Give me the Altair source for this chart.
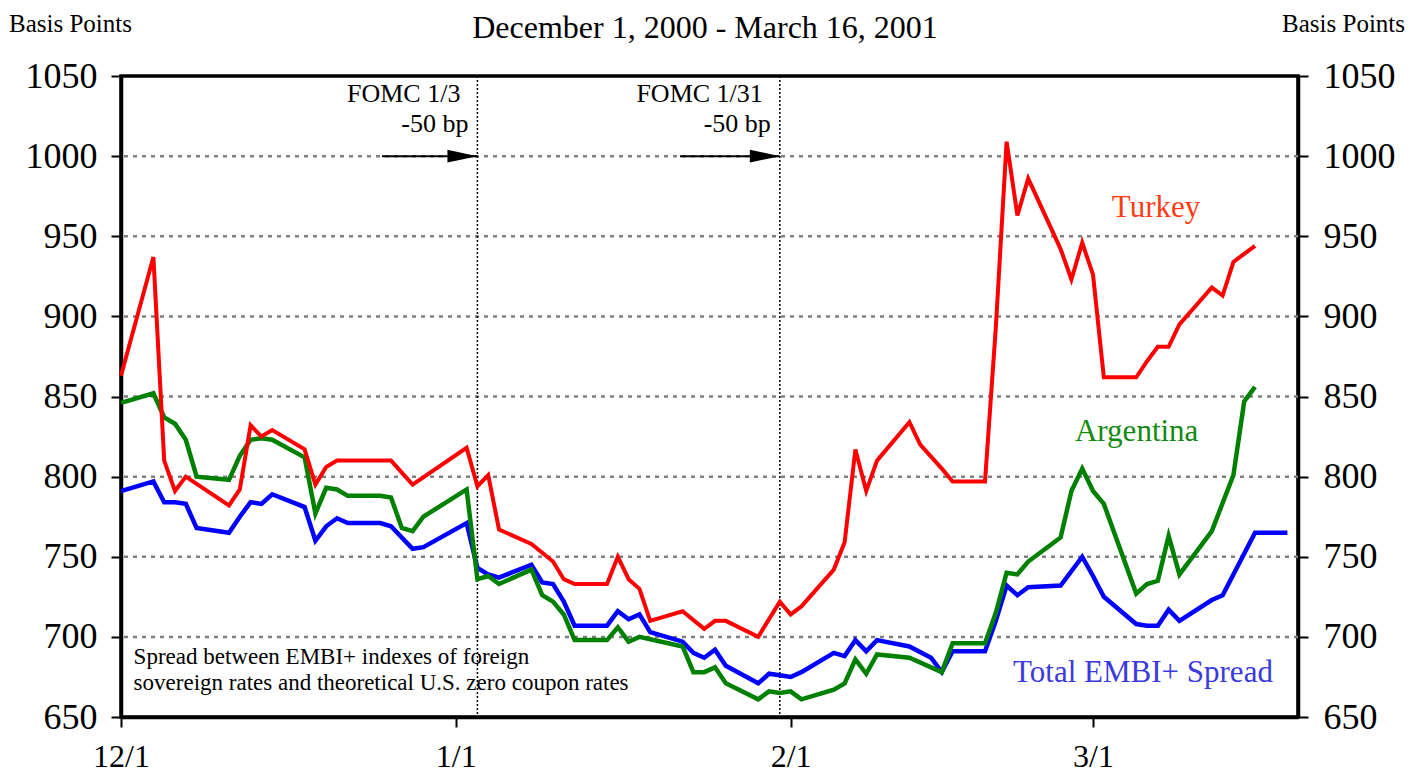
import altair as alt
import pandas as pd

FONT = "Liberation Serif"

# ---------------- data ----------------
turkey_dates = ["12-01", "12-04", "12-05", "12-06", "12-07", "12-11", "12-12", "12-13", "12-14", "12-15",
                "12-18", "12-19", "12-20", "12-21", "12-26", "12-28", "01-02", "01-03", "01-04", "01-05",
                "01-08", "01-10", "01-11", "01-12", "01-15", "01-16", "01-17", "01-18", "01-19", "01-22",
                "01-24", "01-25", "01-26", "01-29", "01-31", "02-01", "02-02", "02-05", "02-06", "02-07",
                "02-08", "02-09", "02-12", "02-13", "02-15", "02-16", "02-19", "02-20", "02-21", "02-22",
                "02-23", "02-26", "02-27", "02-28", "03-01", "03-02", "03-05", "03-06", "03-07", "03-08",
                "03-09", "03-12", "03-13", "03-14", "03-15", "03-16"]
turkey_values = [863, 937, 810, 791, 800, 782, 792, 832, 825, 829,
                 817, 795, 806, 810, 810, 795, 818, 794, 801, 767,
                 758, 747, 736, 733, 733, 750, 736, 730, 710, 716,
                 705, 710, 710, 700, 722, 714, 719, 742, 759, 817,
                 791, 810, 834, 820, 805, 797, 797, 893, 1009, 963,
                 986, 942, 923, 946, 926, 862, 862, 872, 881, 881,
                 895, 918, 913, 934, 939, 944]

argentina_dates = ["12-01", "12-04", "12-05", "12-06", "12-07", "12-08", "12-11", "12-12", "12-13", "12-14",
                   "12-15", "12-18", "12-19", "12-20", "12-21", "12-22", "12-25", "12-26", "12-27", "12-28",
                   "12-29", "01-02", "01-03", "01-04", "01-05", "01-08", "01-09", "01-10", "01-11", "01-12",
                   "01-15", "01-16", "01-17", "01-18", "01-22", "01-23", "01-24", "01-25", "01-26", "01-29",
                   "01-30", "01-31", "02-01", "02-02", "02-05", "02-06", "02-07", "02-08", "02-09", "02-12",
                   "02-15", "02-16", "02-19", "02-20", "02-21", "02-22", "02-23", "02-26", "02-27", "02-28",
                   "03-01", "03-02", "03-05", "03-06", "03-07", "03-08", "03-09", "03-12", "03-14", "03-15",
                   "03-16"]
argentina_values = [846, 852, 837, 833, 823, 800, 798, 813, 823, 824,
                    823, 812, 777, 793, 792, 788, 788, 787, 768, 766,
                    775, 792, 736, 738, 733, 742, 726, 722, 714, 698,
                    698, 706, 697, 700, 694, 678, 678, 681, 671, 661,
                    666, 665, 666, 661, 667, 671, 686, 677, 689, 687,
                    678, 696, 696, 715, 740, 739, 747, 762, 791, 805,
                    791, 783, 727, 733, 735, 763, 739, 766, 801, 847,
                    856]

embi_dates = ["12-01", "12-04", "12-05", "12-06", "12-07", "12-08", "12-11", "12-12", "12-13", "12-14",
              "12-15", "12-18", "12-19", "12-20", "12-21", "12-22", "12-25", "12-26", "12-28", "12-29",
              "01-02", "01-03", "01-04", "01-05", "01-08", "01-09", "01-10", "01-11", "01-12", "01-15",
              "01-16", "01-17", "01-18", "01-19", "01-22", "01-23", "01-24", "01-25", "01-26", "01-29",
              "01-30", "01-31", "02-01", "02-02", "02-05", "02-06", "02-07", "02-08", "02-09", "02-12",
              "02-14", "02-15", "02-16", "02-19", "02-20", "02-21", "02-22", "02-23", "02-26", "02-28",
              "03-01", "03-02", "03-05", "03-06", "03-07", "03-08", "03-09", "03-12", "03-13", "03-16",
              "03-19"]
embi_values = [791, 797, 784, 784, 783, 768, 765, 775, 784, 783,
               789, 781, 760, 769, 774, 771, 771, 769, 755, 756,
               771, 743, 739, 737, 745, 734, 733, 722, 707, 707,
               716, 711, 714, 703, 697, 690, 687, 692, 682, 671,
               677, 676, 675, 678, 690, 688, 698, 691, 698, 694,
               687, 678, 691, 691, 710, 732, 726, 731, 732, 750,
               738, 725, 708, 707, 707, 717, 710, 723, 726, 765,
               765]

y_ticks = [650, 700, 750, 800, 850, 900, 950, 1000, 1050]
grid_values = [700, 750, 800, 850, 900, 950, 1000]
x_tick_dates = ["2000-12-01", "2001-01-01", "2001-02-01", "2001-03-01"]

fomc_dates = ["2001-01-03", "2001-01-31"]
fomc_labels = ["FOMC 1/3", "FOMC 1/31"]
arrow_starts = ["2000-12-25T04:00", "2001-01-21T18:00"]
arrow_level = 1000

series_labels = ["Turkey", "Argentina", "Total EMBI+ Spread"]
series_label_dates = ["2001-03-06T20:00", "2001-03-05T01:00", "2001-03-05T15:00"]
series_label_values = [962, 822, 672]
series_label_colors = ["#ff3c14", "#128a12", "#3a3ae0"]

note_lines = ["Spread between EMBI+ indexes of foreign",
              "sovereign rates and theoretical U.S. zero coupon rates"]
note_date = "2000-12-02T04:00"
note_values = [683.1, 666.8]

title_text = "December 1, 2000 - March 16, 2001"
y_title = "Basis Points"


def full_date(md):
    year = "2000" if md.startswith("12") else "2001"
    return pd.Timestamp(f"{year}-{md}")


def series_frame(dates, values):
    return pd.DataFrame({"date": [full_date(d) for d in dates], "value": values})


df_turkey = series_frame(turkey_dates, turkey_values)
df_arg = series_frame(argentina_dates, argentina_values)
df_embi = series_frame(embi_dates, embi_values)
df_grid = pd.DataFrame({"value": grid_values})
df_fomc = pd.DataFrame({"date": pd.to_datetime(fomc_dates), "label": fomc_labels,
                        "start": pd.to_datetime(arrow_starts), "level": arrow_level,
                        "label_v": 1034.0, "bp_v": 1015.3, "bp": "-50 bp"})
df_series_lab = pd.DataFrame({"text": series_labels, "date": pd.to_datetime(series_label_dates),
                              "value": series_label_values, "color": series_label_colors})
df_note = pd.DataFrame({"text": note_lines, "date": pd.to_datetime([note_date] * 2), "value": note_values})

# ---------------- scales / axes ----------------
x_scale = alt.Scale(domain=[alt.DateTime(year=2000, month=12, date=1),
                            alt.DateTime(year=2001, month=3, date=19, hours=23, minutes=30)])
y_scale = alt.Scale(domain=[650, 1050], nice=False, zero=False)

x_axis = alt.Axis(values=[alt.DateTime(year=int(d[:4]), month=int(d[5:7]), date=int(d[8:10])) for d in x_tick_dates],
                  format="%-m/%-d", title=None, labelFont=FONT, labelFontSize=32, labelColor="black",
                  labelPadding=14, tickSize=10, tickWidth=2, tickColor="black",
                  domainWidth=3.5, domainColor="black", grid=False, labelFlush=False)
y_axis_left = alt.Axis(values=y_ticks, format="d", title=None, labelFont=FONT, labelFontSize=36,
                       labelColor="black", labelPadding=14, tickSize=10, tickWidth=2, tickColor="black",
                       domainWidth=3.5, domainColor="black", grid=False, labelFlush=False)
y_axis_right = alt.Axis(values=y_ticks, format="d", title=None, orient="right", labelFont=FONT,
                        labelFontSize=36, labelColor="black", labelPadding=15, tickSize=10, tickWidth=2,
                        tickColor="black", domainWidth=3.5, domainColor="black", grid=False, labelFlush=False)

X = alt.X("date:T", scale=x_scale, axis=x_axis)
Y = alt.Y("value:Q", scale=y_scale, axis=y_axis_left)

grid = alt.Chart(df_grid).mark_rule(color="#808080", strokeWidth=2.5, strokeDash=[4, 5]).encode(
    y=alt.Y("value:Q", scale=y_scale, axis=y_axis_left))

fomc_lines = alt.Chart(df_fomc).mark_rule(color="black", strokeWidth=1.5, strokeDash=[2, 2]).encode(x=X)

arrows = alt.Chart(df_fomc).mark_rule(color="black", strokeWidth=2).encode(
    x=alt.X("start:T", scale=x_scale, axis=x_axis), x2="date:T",
    y=alt.Y("level:Q", scale=y_scale, axis=y_axis_left))
heads = alt.Chart(df_fomc).mark_point(shape="M0,0 L-2,-0.43 L-2,0.43 Z", size=900, filled=True,
                                      color="black", opacity=1, strokeWidth=0).encode(
    x=X, y=alt.Y("level:Q", scale=y_scale, axis=y_axis_left))

fomc_text = alt.Chart(df_fomc).mark_text(font=FONT, fontSize=26, align="right", baseline="alphabetic",
                                         dx=-17, color="black").encode(
    x=X, y=alt.Y("label_v:Q", scale=y_scale, axis=y_axis_left), text="label:N")
bp_text = alt.Chart(df_fomc).mark_text(font=FONT, fontSize=26, align="right", baseline="alphabetic",
                                       dx=-9, color="black").encode(
    x=X, y=alt.Y("bp_v:Q", scale=y_scale, axis=y_axis_left), text="bp:N")

line_embi = alt.Chart(df_embi).mark_line(color="#0000ff", strokeWidth=4.5).encode(x=X, y=Y)
line_arg = alt.Chart(df_arg).mark_line(color="#008000", strokeWidth=4.5).encode(x=X, y=Y)
line_turkey = alt.Chart(df_turkey).mark_line(color="#ff0000", strokeWidth=4).encode(x=X, y=Y)

series_text = alt.Chart(df_series_lab).mark_text(font=FONT, fontSize=31, align="center",
                                                 baseline="alphabetic").encode(
    x=X, y=Y, text="text:N", color=alt.Color("color:N", scale=None))

note_text = alt.Chart(df_note).mark_text(font=FONT, fontSize=23, align="left", baseline="alphabetic",
                                         color="black").encode(x=X, y=Y, text="text:N")

title_mark = alt.Chart(pd.DataFrame({"t": [title_text]})).mark_text(
    font=FONT, fontSize=32, align="center", baseline="alphabetic", color="black").encode(
    x=alt.value(584), y=alt.value(-38), text="t:N")
ytitle_left = alt.Chart(pd.DataFrame({"t": [y_title]})).mark_text(
    font=FONT, fontSize=25, align="left", baseline="alphabetic", color="black").encode(
    x=alt.value(-112), y=alt.value(-44), text="t:N")
ytitle_right = alt.Chart(pd.DataFrame({"t": [y_title]})).mark_text(
    font=FONT, fontSize=25, align="right", baseline="alphabetic", color="black").encode(
    x=alt.value(1284), y=alt.value(-44), text="t:N")

left = alt.layer(grid, fomc_lines, arrows, heads, fomc_text, bp_text,
                 line_embi, line_arg, line_turkey, series_text, note_text,
                 title_mark, ytitle_left, ytitle_right)

right = alt.Chart(df_grid).mark_point(opacity=0).encode(
    y=alt.Y("value:Q", scale=y_scale, axis=y_axis_right))

chart = alt.layer(left, right).resolve_scale(y="independent").properties(
    width=1177, height=641,
    autosize=alt.AutoSizeParams(type="none"),
    padding={"left": 113, "top": 68, "right": 110, "bottom": 56},
    background="white",
).configure_view(stroke="black", strokeWidth=3.5)

chart.save("out.html", embed_options={"renderer": "svg", "actions": False})
